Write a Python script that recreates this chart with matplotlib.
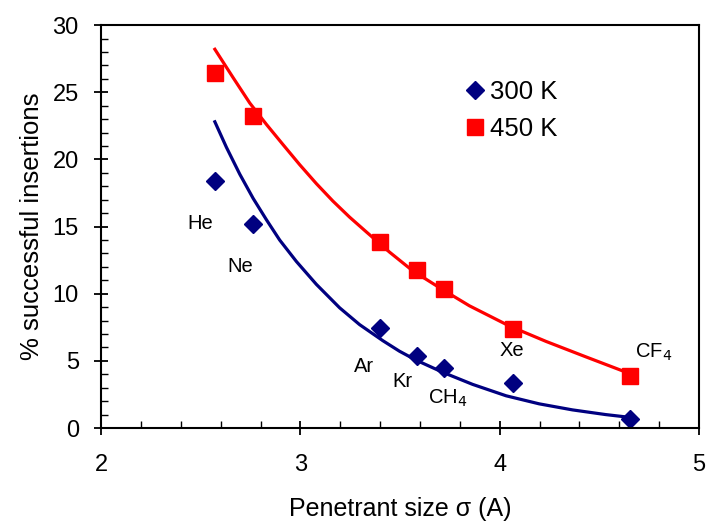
import numpy as np
import matplotlib.pyplot as plt
from matplotlib.ticker import MultipleLocator

plt.rcParams['font.family'] = ['Liberation Sans', 'DejaVu Sans']

# penetrant size (A)
sigma = [2.57, 2.76, 3.40, 3.585, 3.72, 4.065, 4.655]
names = ['He', 'Ne', 'Ar', 'Kr', 'CH$_4$', 'Xe', 'CF$_4$']
ins_300 = [18.4, 15.2, 7.45, 5.35, 4.45, 3.35, 0.65]
ins_450 = [26.4, 23.2, 13.85, 11.8, 10.35, 7.4, 3.85]

# trend lines
fit_x_300 = [2.571, 2.629, 2.696, 2.763, 2.830, 2.896, 2.980, 3.080, 3.197, 3.297,
             3.414, 3.497, 3.581, 3.714, 3.864, 4.032, 4.198, 4.365, 4.532, 4.649]
fit_y_300 = [22.8, 20.9, 18.9, 17.1, 15.5, 14.0, 12.4, 10.7, 8.95, 7.7,
             6.5, 5.72, 5.05, 4.15, 3.25, 2.4, 1.8, 1.35, 1.0, 0.8]
fit_x_450 = [2.571, 2.662, 2.746, 2.830, 2.913, 2.997, 3.080, 3.163, 3.247, 3.331,
             3.447, 3.564, 3.714, 3.848, 4.048, 4.232, 4.432, 4.649]
fit_y_450 = [28.2, 26.1, 24.2, 22.6, 21.1, 19.6, 18.2, 16.9, 15.7, 14.6,
             13.1, 11.7, 10.3, 9.1, 7.6, 6.45, 5.3, 4.07]

# label positions for each gas
lab_x = [2.50, 2.70, 3.32, 3.51, 3.74, 4.06, 4.77]
lab_y = [15.2, 12.0, 4.6, 3.5, 2.2, 5.8, 5.6]

fig = plt.figure(figsize=(7.09, 5.23), dpi=100)
ax = fig.add_axes([0.1425, 0.1816, 0.8435, 0.7704])

ax.plot(fit_x_300, fit_y_300, color='#000080', lw=2.3)
ax.plot(fit_x_450, fit_y_450, color='#ff0000', lw=2.3)
ax.plot(sigma, ins_300, 'D', color='#000080', ms=8.8, ls='none', label='300 K')
ax.plot(sigma, ins_450, 's', color='#ff0000', ms=12, ls='none', label='450 K')

for x, y, t in zip(lab_x, lab_y, names):
    ax.text(x, y, t, fontsize=14.5, ha='center', va='center')

ax.set_xlim(2, 5)
ax.set_ylim(0, 30)
ax.xaxis.set_major_locator(MultipleLocator(1))
ax.xaxis.set_minor_locator(MultipleLocator(0.2))
ax.yaxis.set_major_locator(MultipleLocator(5))
ax.yaxis.set_minor_locator(MultipleLocator(1))
ax.tick_params(which='major', direction='inout', length=10, width=1.3, labelsize=17)
ax.tick_params(axis='x', which='major', pad=13.5)
ax.tick_params(axis='y', which='major', pad=11)
ax.tick_params(which='minor', direction='in', length=5, width=1)
for s in ax.spines.values():
    s.set_linewidth(1.5)

ax.set_xlabel('Penetrant size σ (A)', fontsize=18, labelpad=15)
ax.set_ylabel('% successful insertions', fontsize=18.5, labelpad=6)

ax.legend(loc='upper left', bbox_to_anchor=(0.569, 0.92), frameon=False,
          fontsize=18.5, handletextpad=0.18, labelspacing=0.5, handlelength=0.8)

fig.savefig('out.png', dpi=100)
